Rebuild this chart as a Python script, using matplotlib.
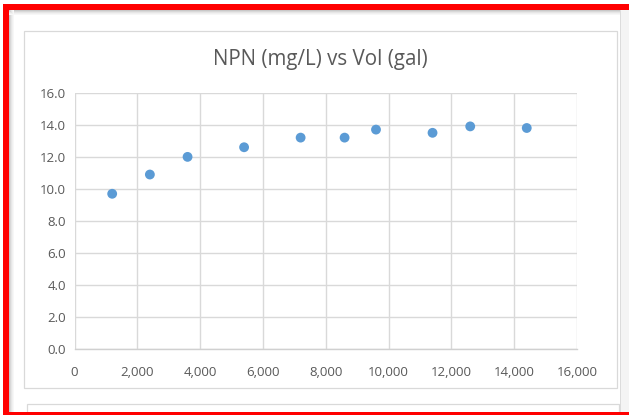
import matplotlib
matplotlib.use("Agg")
import matplotlib.pyplot as plt
from matplotlib.patches import Rectangle
from matplotlib.ticker import FuncFormatter, MultipleLocator

vol_gal = [1200, 2400, 3600, 5400, 7200, 8600, 9600, 11400, 12600, 14400]
npn_mgL = [9.7, 10.9, 12.0, 12.6, 13.2, 13.2, 13.7, 13.5, 13.9, 13.8]
title = "NPN (mg/L) vs Vol (gal)"

W, H = 629, 415
fig = plt.figure(figsize=(W / 100, H / 100), dpi=100)
fig.patch.set_facecolor("white")

def px_rect(x0, y0, x1, y1, z=-5, **kw):
    # pixel coords with y from top
    r = Rectangle((x0 / W, 1 - y1 / H), (x1 - x0) / W, (y1 - y0) / H,
                  transform=fig.transFigure, zorder=z, **kw)
    fig.patches.append(r)

# subtle shadows
for i, c in enumerate(["#c8c8c8", "#d8d8d8", "#e6e6e6", "#f0f0f0", "#f7f7f7"]):
    px_rect(9, 10 + i, W, 11 + i, facecolor=c, edgecolor="none")
    px_rect(9 + i, 10, 10 + i, 412, facecolor=c, edgecolor="none")
px_rect(620, 10, 629, 412, facecolor="#f4f4f4", edgecolor="none")
px_rect(620, 10, 621, 412, facecolor="#dcdcdc", edgecolor="none")

# chart frames
px_rect(23.5, 31.5, 616.5, 387.5, facecolor="white", edgecolor="#d9d9d9", linewidth=0.9)
px_rect(26.5, 404.5, 618.5, 420, facecolor="white", edgecolor="#d9d9d9", linewidth=0.9)

# red border
px_rect(3, 4, W, 10, z=5, facecolor="#ff0000", edgecolor="none")
px_rect(3, 4, 9, H, z=5, facecolor="#ff0000", edgecolor="none")
px_rect(3, 412, W, H, z=5, facecolor="#ff0000", edgecolor="none")

ax = fig.add_axes([74.5 / W, 1 - 349.4 / H, (577 - 74.5) / W, (349.4 - 92.7) / H])
ax.set_facecolor("none")
ax.set_xlim(0, 16000)
ax.set_ylim(0, 16)
ax.xaxis.set_major_locator(MultipleLocator(2000))
ax.yaxis.set_major_locator(MultipleLocator(2))
ax.xaxis.set_major_formatter(FuncFormatter(lambda v, p: f"{int(v):,}"))
ax.yaxis.set_major_formatter(FuncFormatter(lambda v, p: f"{v:.1f}"))
ax.grid(True, color="#d9d9d9", linewidth=1.0)
ax.set_axisbelow(True)
for s in ["left", "right", "top"]:
    ax.spines[s].set_visible(False)
ax.spines["bottom"].set_color("#d0d0d0")
ax.spines["bottom"].set_linewidth(1.0)
ax.tick_params(length=0, colors="#595959", labelsize=9.5)
ax.tick_params(axis="x", pad=12)
ax.tick_params(axis="y", pad=6)
for lab in ax.get_xticklabels() + ax.get_yticklabels():
    lab.set_fontfamily("Open Sans")

ax.scatter(vol_gal, npn_mgL, s=50, color="#5b9bd5", edgecolors="none", zorder=3, clip_on=False)

fig.text(320 / W, 1 - 60 / H, title, ha="center", va="center", fontsize=14.8,
         color="#595959", fontfamily="Open Sans")

fig.savefig("out.png", dpi=100, facecolor=fig.get_facecolor())
